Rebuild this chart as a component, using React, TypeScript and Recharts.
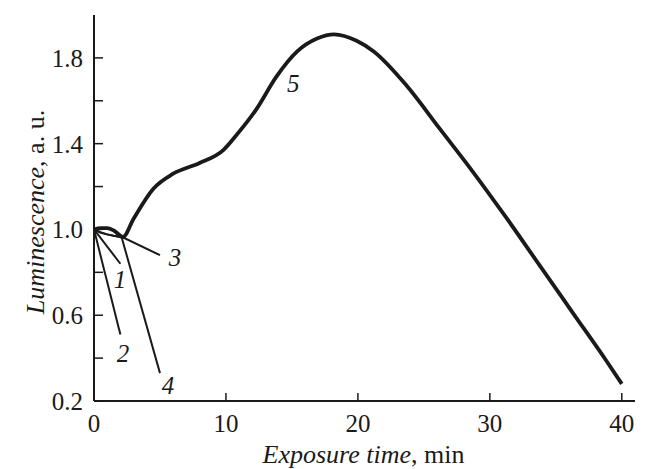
import { LineChart, Line, XAxis, YAxis, ReferenceDot, Label } from 'recharts';

// curve 5 (full run)
const time5 = [0, 0.5, 1, 1.5, 2.2, 3, 4.5, 6, 8, 9.8, 10.8, 12.3, 13.8, 15.4, 16.9, 18.2, 19.9, 21.2, 23.7, 26.2, 28.7, 31.3, 33.8, 36.3, 38.8, 40];
const lum5 = [1.0, 1.006, 1.006, 0.995, 0.965, 1.05, 1.19, 1.26, 1.31, 1.37, 1.44, 1.56, 1.71, 1.83, 1.89, 1.91, 1.88, 1.83, 1.67, 1.47, 1.27, 1.05, 0.83, 0.61, 0.39, 0.28];

// short curves 1-4
const time1 = [0, 2.0];
const lum1 = [1.0, 0.84];
const time2 = [0, 2.0];
const lum2 = [1.0, 0.51];
const time3 = [0, 0.5, 1, 1.5, 2.1, 5.0];
const lum3 = [1.0, 0.986, 0.977, 0.971, 0.966, 0.88];
const time4 = [0, 0.5, 1, 1.5, 2.1, 5.0];
const lum4 = [1.0, 0.986, 0.977, 0.97, 0.962, 0.33];

// curve number labels (data coords)
const labelText = ['1', '2', '3', '4', '5'];
const labelT = [1.97, 2.2, 6.14, 5.6, 15.1];
const labelL = [0.767, 0.425, 0.87, 0.275, 1.68];

const xTicks = [0, 10, 20, 30, 40];
const yTicks = [0.2, 0.4, 0.6, 0.8, 1.0, 1.2, 1.4, 1.6, 1.8];
const yLabeled = [0.2, 0.6, 1.0, 1.4, 1.8];

const toSeries = (t: number[], v: number[]) => t.map((x, i) => ({ t: x, v: v[i] }));

const FONT = '"Liberation Serif", "DejaVu Serif", serif';
const INK = '#1a1a1a';

const XTitle = ({ viewBox }: any) => (
  <text x={viewBox.x + viewBox.width / 2 - 1} y={463} textAnchor="middle" fontFamily={FONT} fontSize={26} fill={INK}>
    <tspan fontStyle="italic">Exposure time</tspan>
    <tspan>, min</tspan>
  </text>
);

const YTitle = () => (
  <text x={44} y={212} transform="rotate(-90, 44, 212)" textAnchor="middle" fontFamily={FONT} fontSize={26} fill={INK}>
    <tspan fontStyle="italic">Luminescence</tspan>
    <tspan>, a. u.</tspan>
  </text>
);

export default function App() {
  return (
    <div style={{ position: 'absolute', left: 0, top: 0, background: '#fff' }}>
      <LineChart width={647} height={469} margin={{ top: 15, right: 12, left: 0, bottom: 0 }}>
        <XAxis
          type="number"
          dataKey="t"
          domain={[0, 41]}
          ticks={xTicks}
          allowDataOverflow
          height={68}
          tickSize={-8}
          tickMargin={21}
          axisLine={{ stroke: INK, strokeWidth: 2 }}
          tickLine={{ stroke: INK, strokeWidth: 1.5 }}
          tick={{ fill: INK, fontSize: 25, fontFamily: FONT }}
        >
          <Label content={<XTitle />} />
        </XAxis>
        <YAxis
          type="number"
          domain={[0.2, 2.0]}
          ticks={yTicks}
          allowDataOverflow
          width={94}
          tickSize={-9}
          tickMargin={20}
          tickFormatter={(v: number) => (yLabeled.some((l) => Math.abs(l - v) < 1e-6) ? v.toFixed(1) : '')}
          axisLine={{ stroke: INK, strokeWidth: 2 }}
          tickLine={{ stroke: INK, strokeWidth: 1.5 }}
          tick={{ fill: INK, fontSize: 25, fontFamily: FONT }}
        >
          <Label content={<YTitle />} />
        </YAxis>
        <Line data={toSeries(time1, lum1)} dataKey="v" type="linear" stroke={INK} strokeWidth={2} dot={false} isAnimationActive={false} />
        <Line data={toSeries(time2, lum2)} dataKey="v" type="linear" stroke={INK} strokeWidth={2} dot={false} isAnimationActive={false} />
        <Line data={toSeries(time3, lum3)} dataKey="v" type="linear" stroke={INK} strokeWidth={2} dot={false} isAnimationActive={false} />
        <Line data={toSeries(time4, lum4)} dataKey="v" type="linear" stroke={INK} strokeWidth={2} dot={false} isAnimationActive={false} />
        <Line data={toSeries(time5, lum5)} dataKey="v" type="monotone" stroke={INK} strokeWidth={3.8} dot={false} isAnimationActive={false} />
        {labelText.map((txt, i) => (
          <ReferenceDot
            key={txt}
            x={labelT[i]}
            y={labelL[i]}
            r={0}
            stroke="none"
            fill="none"
            label={{ value: txt, position: 'center', fontStyle: 'italic', fontSize: 25, fontFamily: FONT, fill: INK }}
          />
        ))}
      </LineChart>
    </div>
  );
}
